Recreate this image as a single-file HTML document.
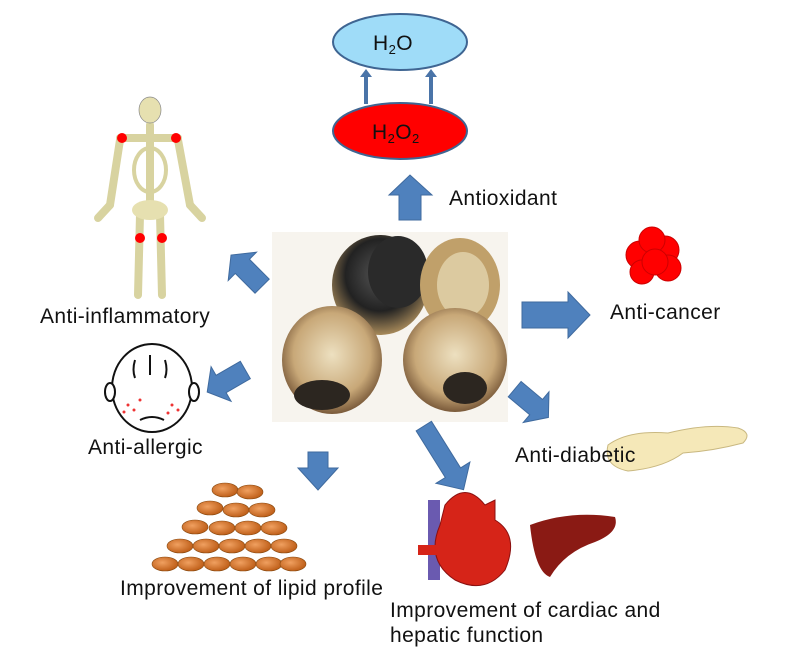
<!DOCTYPE html>
<html><head><meta charset="utf-8"><style>
html,body{margin:0;padding:0;background:#fff}
svg text{font-family:"Liberation Sans",sans-serif;font-size:21px;letter-spacing:0.4px;fill:#111}
</style></head><body>
<svg width="800" height="658" viewBox="0 0 800 658" xmlns="http://www.w3.org/2000/svg">
<defs>
<radialGradient id="g1" cx="50%" cy="45%" r="55%"><stop offset="0" stop-color="#ede0c0"/><stop offset="0.7" stop-color="#c8a878"/><stop offset="1" stop-color="#7a5a3a"/></radialGradient>
<radialGradient id="g2" cx="50%" cy="40%" r="60%"><stop offset="0" stop-color="#555"/><stop offset="0.6" stop-color="#222"/><stop offset="1" stop-color="#a88a5a"/></radialGradient>
<radialGradient id="cell" cx="40%" cy="40%" r="60%"><stop offset="0" stop-color="#f0a060"/><stop offset="1" stop-color="#c0601a"/></radialGradient>
</defs>
<!-- H2O / H2O2 -->
<ellipse cx="400" cy="42" rx="67" ry="28" fill="#9fdcf8" stroke="#3f6592" stroke-width="2"/>
<text x="373" y="50" font-size="19" letter-spacing="0">H<tspan font-size="13" dy="4">2</tspan><tspan dy="-4">O</tspan></text>
<ellipse cx="400" cy="131" rx="67" ry="28" fill="#ff0000" stroke="#3f6592" stroke-width="2"/>
<text x="372" y="139" font-size="19" letter-spacing="0">H<tspan font-size="13" dy="4">2</tspan><tspan dy="-4">O</tspan><tspan font-size="13" dy="4">2</tspan></text>
<g fill="#4a74a8">
<rect x="364" y="76" width="4" height="28"/><polygon points="360,77 366,69 372,77"/>
<rect x="429" y="76" width="4" height="28"/><polygon points="425,77 431,69 437,77"/>
</g>
<!-- garlic -->
<rect x="272" y="232" width="236" height="190" fill="#f7f4ee"/>
<ellipse cx="380" cy="285" rx="48" ry="50" fill="url(#g2)"/>
<ellipse cx="398" cy="272" rx="30" ry="36" fill="#2a2a2a"/>
<ellipse cx="460" cy="285" rx="40" ry="47" fill="#c0a06a"/>
<ellipse cx="463" cy="285" rx="26" ry="33" fill="#dccaa0"/>
<ellipse cx="332" cy="360" rx="50" ry="54" fill="url(#g1)"/>
<ellipse cx="322" cy="395" rx="28" ry="15" fill="#2c2620"/>
<ellipse cx="455" cy="360" rx="52" ry="52" fill="url(#g1)"/>
<ellipse cx="465" cy="388" rx="22" ry="16" fill="#2c2620"/>
<!-- block arrows -->
<g fill="#4f81bd" stroke="#3f6a9e" stroke-width="1">
<polygon points="399,220 421,220 421,195 432,195 410,175 389,195 399,195"/>
<polygon points="522,302 568,302 568,292 590,315 568,338 568,328 522,328"/>
<polygon transform="rotate(-135 248 272)" points="228,262 256,262 256,252 272,272 256,292 256,282 228,282"/>
<polygon transform="rotate(150 228 380)" points="208,370 236,370 236,360 252,380 236,400 236,390 208,390"/>
<polygon transform="rotate(40 530 402)" points="510,392 538,392 538,382 554,402 538,422 538,412 510,412"/>
<polygon points="308,452 328,452 328,468 338,468 318,490 298,468 308,468"/>
<polygon transform="rotate(58 445 460)" points="405,451 460,451 460,440 480,460 460,480 460,469 405,469"/>
</g>
<!-- skeleton -->
<g stroke="#d8d3a0" stroke-width="8" stroke-linecap="round" fill="none">
<line x1="150" y1="125" x2="150" y2="210"/>
<line x1="120" y1="138" x2="178" y2="138"/>
<line x1="120" y1="140" x2="110" y2="205"/>
<line x1="178" y1="140" x2="190" y2="205"/>
<line x1="110" y1="205" x2="98" y2="218"/>
<line x1="190" y1="205" x2="202" y2="218"/>
<line x1="140" y1="215" x2="138" y2="295"/>
<line x1="160" y1="215" x2="162" y2="295"/>
</g>
<ellipse cx="150" cy="110" rx="11" ry="13" fill="#e6e0b0" stroke="#888" stroke-width="0.7"/>
<ellipse cx="150" cy="170" rx="16" ry="22" fill="none" stroke="#d8d3a0" stroke-width="4"/>
<ellipse cx="150" cy="210" rx="18" ry="10" fill="#e6e0b0"/>
<g fill="#f00"><circle cx="122" cy="138" r="5"/><circle cx="176" cy="138" r="5"/><circle cx="140" cy="238" r="5"/><circle cx="162" cy="238" r="5"/></g>
<text x="40" y="323">Anti-inflammatory</text>
<text x="449" y="205">Antioxidant</text>
<!-- cancer cells -->
<g fill="#f00" stroke="#c00" stroke-width="1">
<circle cx="640" cy="255" r="14"/><circle cx="665" cy="250" r="14"/><circle cx="652" cy="240" r="13"/><circle cx="668" cy="268" r="13"/><circle cx="642" cy="272" r="12"/><circle cx="655" cy="262" r="13"/>
</g>
<text x="610" y="319">Anti-cancer</text>
<!-- face -->
<ellipse cx="152" cy="388" rx="40" ry="44" fill="#fff" stroke="#111" stroke-width="2"/>
<ellipse cx="110" cy="392" rx="5" ry="9" fill="#fff" stroke="#111" stroke-width="2"/>
<ellipse cx="194" cy="392" rx="5" ry="9" fill="#fff" stroke="#111" stroke-width="2"/>
<g stroke="#111" stroke-width="2" fill="none"><path d="M135 360 q-3 10 0 18"/><path d="M150 355 v20"/><path d="M165 360 q3 10 0 18"/><path d="M140 420 q12 -6 24 0"/></g>
<g fill="#e33"><circle cx="128" cy="405" r="1.5"/><circle cx="134" cy="410" r="1.5"/><circle cx="124" cy="412" r="1.5"/><circle cx="172" cy="405" r="1.5"/><circle cx="178" cy="410" r="1.5"/><circle cx="168" cy="413" r="1.5"/><circle cx="140" cy="400" r="1.5"/></g>
<text x="88" y="454">Anti-allergic</text>
<!-- pancreas -->
<path d="M608 445 q20 -15 60 -12 q40 -10 70 -5 q15 5 5 15 q-30 8 -60 10 q-20 15 -55 18 q-25 -5 -20 -26z" fill="#f5e8b8" stroke="#c9b880"/>
<text x="515" y="462">Anti-diabetic</text>
<!-- lipid -->
<g fill="url(#cell)" stroke="#8a4a10" stroke-width="0.6">
<ellipse cx="225" cy="490" rx="13" ry="7"/><ellipse cx="250" cy="492" rx="13" ry="7"/>
<ellipse cx="210" cy="508" rx="13" ry="7"/><ellipse cx="236" cy="510" rx="13" ry="7"/><ellipse cx="262" cy="510" rx="13" ry="7"/>
<ellipse cx="195" cy="527" rx="13" ry="7"/><ellipse cx="222" cy="528" rx="13" ry="7"/><ellipse cx="248" cy="528" rx="13" ry="7"/><ellipse cx="274" cy="528" rx="13" ry="7"/>
<ellipse cx="180" cy="546" rx="13" ry="7"/><ellipse cx="206" cy="546" rx="13" ry="7"/><ellipse cx="232" cy="546" rx="13" ry="7"/><ellipse cx="258" cy="546" rx="13" ry="7"/><ellipse cx="284" cy="546" rx="13" ry="7"/>
<ellipse cx="165" cy="564" rx="13" ry="7"/><ellipse cx="191" cy="564" rx="13" ry="7"/><ellipse cx="217" cy="564" rx="13" ry="7"/><ellipse cx="243" cy="564" rx="13" ry="7"/><ellipse cx="269" cy="564" rx="13" ry="7"/><ellipse cx="293" cy="564" rx="13" ry="7"/>
</g>
<text x="120" y="595">Improvement of lipid profile</text>
<!-- heart -->
<rect x="428" y="500" width="12" height="80" fill="#6a5ab0"/>
<path d="M445 505 q20 -25 40 0 l10 -5 v20 q25 15 10 50 q-20 25 -50 10 q-30 -20 -15 -55z" fill="#d62418" stroke="#8a1010"/>
<rect x="418" y="545" width="30" height="10" fill="#d62418"/>
<path d="M530 525 q40 -15 85 -8 q5 15 -20 25 q-30 10 -45 35 q-15 -5 -20 -52z" fill="#8a1a14"/>
<text x="390" y="617">Improvement of cardiac and</text>
<text x="390" y="642">hepatic function</text>
</svg>
</body></html>
